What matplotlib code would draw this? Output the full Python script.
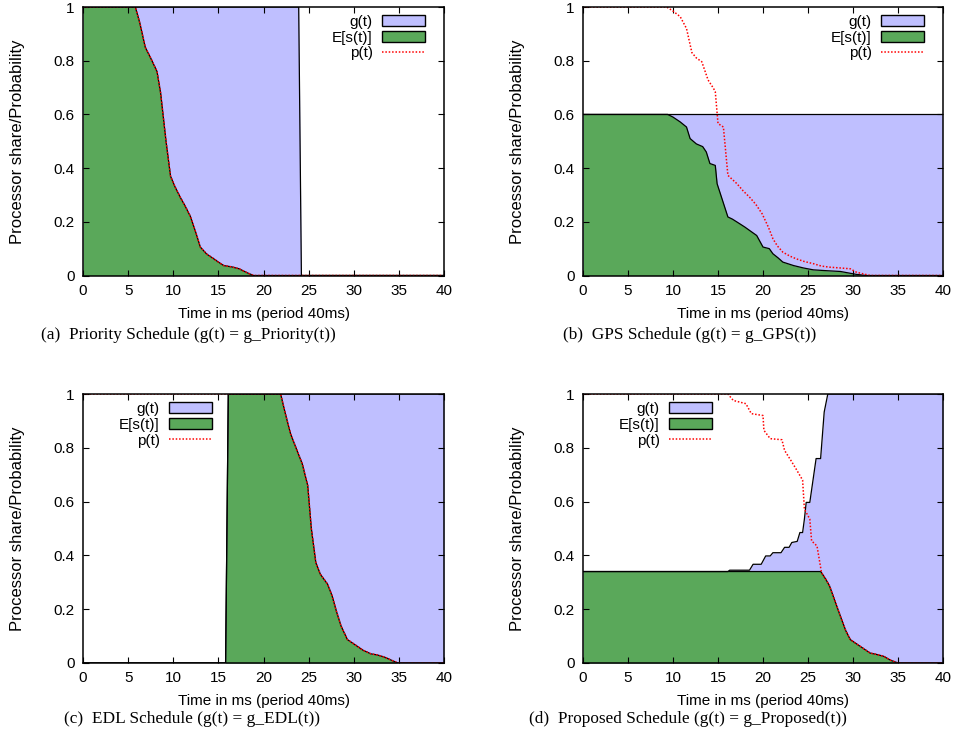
import matplotlib
matplotlib.use("Agg")
import matplotlib.pyplot as plt
from matplotlib.patches import Patch
from matplotlib.lines import Line2D

plt.rcParams['font.family'] = ['Liberation Sans', 'DejaVu Sans']

# colours of the original gnuplot figure
BLUE = "#bfbfff"
GREEN = "#5aa85a"
RED = "#ff0000"

# ---- (a) Priority schedule ----
t_g_a = [0, 23.9, 24.2, 40]
g_a = [1, 1, 0, 0]
t_p_a = [0, 5.8, 6.3, 6.9, 7.5, 8.2, 8.6, 9.2, 9.7, 10.2, 10.8, 11.3, 11.9, 12.5,
         13.0, 13.7, 14.5, 15.0, 15.6, 16.5, 17.3, 18.2, 18.9, 40]
p_a = [1, 1, 0.94, 0.85, 0.81, 0.76, 0.68, 0.50, 0.37, 0.33, 0.29, 0.26, 0.22, 0.16,
       0.106, 0.08, 0.062, 0.05, 0.037, 0.032, 0.025, 0.01, 0, 0]
# E[s(t)] lies on p(t) here
t_e_a = t_p_a
e_a = p_a

# ---- (b) GPS schedule ----
t_g_b = [0, 40]
g_b = [0.6, 0.6]
t_p_b = [0, 9.3, 10.0, 10.8, 11.5, 12.1, 12.6, 13.2, 13.9, 14.5, 14.7, 15.0, 15.6,
         16.1, 17.1, 17.8, 18.5, 19.2, 19.9, 20.6, 21.1, 21.6, 22.2, 23.0, 23.7,
         24.6, 25.6, 26.5, 27.4, 28.6, 29.7, 30.4, 31.9, 40]
p_b = [1, 1, 0.985, 0.964, 0.92, 0.83, 0.81, 0.796, 0.728, 0.697, 0.684, 0.566, 0.553,
       0.373, 0.342, 0.315, 0.292, 0.265, 0.23, 0.18, 0.137, 0.11, 0.087, 0.072, 0.062,
       0.052, 0.044, 0.035, 0.031, 0.028, 0.025, 0.012, 0, 0]
t_e_b = [0, 9.4, 10.0, 10.8, 11.5, 11.9, 12.6, 13.3, 13.7, 14.1, 14.7, 14.9, 15.5,
         16.1, 16.6, 17.4, 18.0, 18.5, 19.3, 20.0, 20.7, 21.1, 21.7, 22.2, 23.4,
         24.5, 25.6, 27.0, 28.6, 30.4, 31.5, 40]
e_b = [0.6, 0.6, 0.59, 0.572, 0.553, 0.51, 0.49, 0.48, 0.46, 0.417, 0.41, 0.342, 0.28,
       0.218, 0.21, 0.193, 0.18, 0.168, 0.149, 0.106, 0.10, 0.081, 0.065, 0.05, 0.037,
       0.028, 0.021, 0.018, 0.015, 0.004, 0, 0]

# ---- (c) EDL schedule ----
t_g_c = [0, 15.8, 16.1, 40]
g_c = [0, 0, 1, 1]
t_p_c = [0, 21.9, 22.4, 23.0, 23.6, 24.3, 24.9, 25.3, 25.8, 26.3, 27.1, 27.6, 28.1,
         28.6, 29.3, 30.4, 31.0, 31.9, 32.6, 33.4, 34.2, 34.9, 40]
p_c = [1, 1, 0.93, 0.852, 0.80, 0.74, 0.66, 0.50, 0.373, 0.33, 0.293, 0.25, 0.19,
       0.137, 0.087, 0.062, 0.048, 0.034, 0.03, 0.022, 0.01, 0, 0]
t_e_c = [0, 15.8, 16.1, 21.9, 22.4, 23.0, 23.6, 24.3, 24.9, 25.3, 25.8, 26.3, 27.1,
         27.6, 28.1, 28.6, 29.3, 30.4, 31.0, 31.9, 32.6, 33.4, 34.2, 34.9, 40]
e_c = [0, 0, 1, 1, 0.93, 0.852, 0.80, 0.74, 0.66, 0.50, 0.373, 0.33, 0.293,
       0.25, 0.19, 0.137, 0.087, 0.062, 0.048, 0.034, 0.03, 0.022, 0.01, 0, 0]

# ---- (d) Proposed schedule ----
t_g_d = [0, 16.1, 16.3, 18.5, 18.9, 19.8, 20.3, 20.8, 21.1, 22.0, 22.4, 22.9, 23.2,
         23.8, 24.1, 24.4, 24.6, 24.8, 25.2, 25.9, 26.4, 26.8, 27.2, 40]
g_d = [0.34, 0.34, 0.345, 0.345, 0.367, 0.367, 0.398, 0.398, 0.41, 0.41, 0.43, 0.43,
       0.448, 0.452, 0.485, 0.485, 0.535, 0.597, 0.597, 0.76, 0.76, 0.933, 1.0, 1.0]
t_p_d = [0, 16.1, 16.7, 18.1, 18.7, 20.0, 20.1, 20.8, 22.1, 22.4, 23.1, 23.7, 24.1,
         24.4, 24.6, 25.2, 25.4, 26.0, 26.5, 27.0, 27.4, 28.0, 28.6, 29.2, 29.7, 30.8,
         31.9, 32.6, 33.4, 34.2, 35.0, 40]
p_d = [1, 1, 0.976, 0.964, 0.927, 0.92, 0.865, 0.834, 0.83, 0.79, 0.753, 0.72, 0.697,
       0.68, 0.572, 0.535, 0.454, 0.435, 0.336, 0.31, 0.286, 0.23, 0.174, 0.12, 0.087,
       0.062, 0.037, 0.032, 0.025, 0.01, 0, 0]
t_e_d = [0, 26.4, 26.5, 27.0, 27.4, 28.0, 28.6, 29.2, 29.7, 30.8, 31.9, 32.6, 33.4,
         34.2, 35.0, 40]
e_d = [0.34, 0.34, 0.336, 0.31, 0.286, 0.23, 0.174, 0.12, 0.087, 0.062, 0.037, 0.032,
       0.025, 0.01, 0, 0]

x_ticks = [0, 5, 10, 15, 20, 25, 30, 35, 40]
y_ticks = [0, 0.2, 0.4, 0.6, 0.8, 1]
y_tick_labels = ["0", "0.2", "0.4", "0.6", "0.8", "1"]

captions = ["(a)  Priority Schedule (g(t) = g_Priority(t))",
            "(b)  GPS Schedule (g(t) = g_GPS(t))",
            "(c)  EDL Schedule (g(t) = g_EDL(t))",
            "(d)  Proposed Schedule (g(t) = g_Proposed(t))"]

DOTTED = (0, (1.0, 1.2))
FS = 11


def draw_panel(ax, t_g, g, t_e, e, t_p, p, legend_x):
    # g(t) area, then E[s(t)] on top, then p(t) dotted
    ax.fill_between(t_g, 0, g, color=BLUE, lw=0)
    ax.plot(t_g, g, color="black", lw=0.9)
    ax.fill_between(t_e, 0, e, color=GREEN, lw=0)
    ax.plot(t_e, e, color="black", lw=0.9)
    ax.plot(t_p, p, color=RED, lw=1.1, ls=DOTTED)

    ax.set_xlim(0, 40)
    ax.set_ylim(0, 1)
    ax.set_xticks(x_ticks)
    ax.set_yticks(y_ticks)
    ax.set_yticklabels(y_tick_labels)
    ax.tick_params(direction="in", length=4, width=0.8, top=True, right=True,
                   labelsize=FS, pad=6)
    for s in ax.spines.values():
        s.set_linewidth(1.1)

    ax.set_xlabel("Time in ms (period 40ms)", fontsize=FS, va="center")
    ax.set_ylabel("Processor share/Probability", fontsize=12, va="center")
    ax.xaxis.set_label_coords(0.5, -0.143)
    ax.yaxis.set_label_coords(-0.182, 0.5)

    handles = [Patch(facecolor=BLUE, edgecolor="black", lw=1.0),
               Patch(facecolor=GREEN, edgecolor="black", lw=1.0),
               Line2D([], [], color=RED, lw=1.1, ls=DOTTED)]
    ax.legend(handles, ["g(t)", "E[s(t)]", "p(t)"], loc="upper right",
              bbox_to_anchor=(legend_x, 0.972), frameon=False, markerfirst=False,
              fontsize=FS, handlelength=2.8, handletextpad=0.6,
              labelspacing=0.13, borderpad=0, borderaxespad=0)


fig = plt.figure(figsize=(9.56, 7.38), dpi=100)

# axes boxes in pixels: left, top, right, bottom
boxes = [(83, 7, 444, 275.5), (583, 7, 943, 275.5),
         (83, 394, 444, 663), (583, 394, 943, 663)]
axes = []
for (l, t, r, b) in boxes:
    axes.append(fig.add_axes([l / 956, 1 - b / 738, (r - l) / 956, (b - t) / 738]))

draw_panel(axes[0], t_g_a, g_a, t_e_a, e_a, t_p_a, p_a, 0.947)
draw_panel(axes[1], t_g_b, g_b, t_e_b, e_b, t_p_b, p_b, 0.947)
draw_panel(axes[2], t_g_c, g_c, t_e_c, e_c, t_p_c, p_c, 0.357)
draw_panel(axes[3], t_g_d, g_d, t_e_d, e_d, t_p_d, p_d, 0.357)

# subfigure captions (Times style)
cap_pos = [(188, 335), (690, 335), (192, 719), (688, 719)]
for (x, y), txt in zip(cap_pos, captions):
    fig.text(x / 956, 1 - y / 738, txt, ha="center", va="center",
             fontsize=12.4, family=["Liberation Serif", "DejaVu Serif"])

fig.savefig("out.png", dpi=100)
